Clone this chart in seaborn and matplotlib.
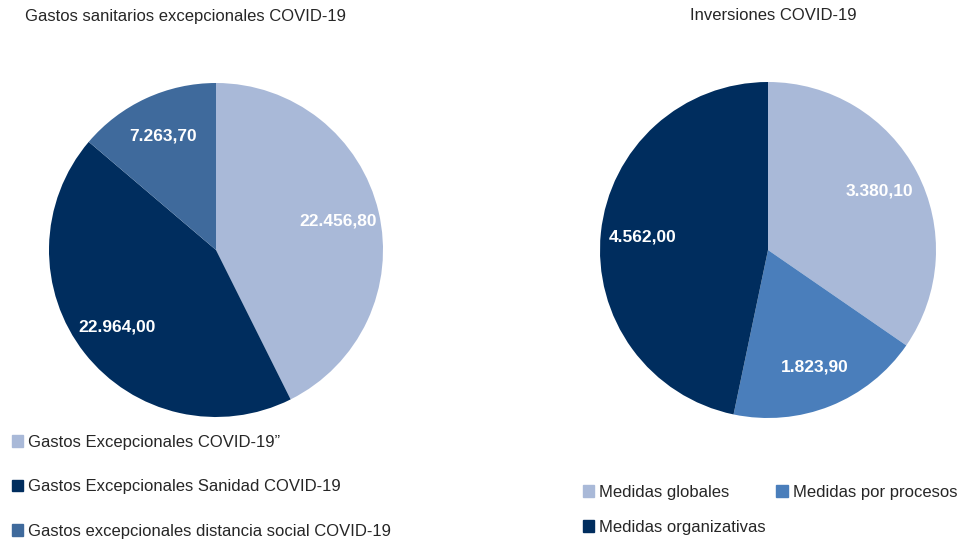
import matplotlib
matplotlib.use("Agg")
import matplotlib.pyplot as plt
import matplotlib.patches as mpatches
import seaborn as sns

# Data
gastos_labels = ["Gastos Excepcionales COVID-19\u201d",
                 "Gastos Excepcionales Sanidad COVID-19",
                 "Gastos excepcionales distancia social COVID-19"]
gastos_values = [22456.80, 22964.00, 7263.70]
gastos_colors = ["#A9B9D8", "#002D5E", "#3F6A9C"]

inv_labels = ["Medidas globales", "Medidas por procesos", "Medidas organizativas"]
inv_values = [3380.10, 1823.90, 4562.00]
inv_colors = ["#A9B9D8", "#4A7EBB", "#002D5E"]

sns.set_theme(style="white")
plt.rcParams["font.family"] = ["Liberation Sans", "DejaVu Sans"]


def es_fmt(v):
    s = f"{v:,.2f}"
    return s.replace(",", "X").replace(".", ",").replace("X", ".")


def draw_pie(ax, values, colors):
    total = sum(values)
    wedges, _, autotexts = ax.pie(
        values, colors=colors, startangle=90, counterclock=False,
        autopct=lambda p: es_fmt(p * total / 100), pctdistance=0.75,
        wedgeprops=dict(linewidth=0), radius=1,
        textprops=dict(color="white", fontsize=12.5, fontweight="bold"))
    ax.set_xlim(-1.0, 1.0)
    ax.set_ylim(-1.0, 1.0)
    ax.set_aspect("equal")
    return wedges


W, H = 957, 540
fig = plt.figure(figsize=(W / 100, H / 100), dpi=100)

ax1 = fig.add_axes([49 / W, 123 / H, 334 / W, 334 / H])
w1 = draw_pie(ax1, gastos_values, gastos_colors)
ax2 = fig.add_axes([600 / W, 122 / H, 336 / W, 336 / H])
w2 = draw_pie(ax2, inv_values, inv_colors)

fig.text(25 / W, 1 - 16 / H, "Gastos sanitarios excepcionales COVID-19",
         fontsize=12, va="center", ha="left")
fig.text(773 / W, 1 - 16 / H, "Inversiones COVID-19",
         fontsize=12, va="center", ha="center")

h1 = [mpatches.Patch(color=c, label=l) for c, l in zip(gastos_colors, gastos_labels)]
fig.legend(handles=h1, loc="upper left", bbox_to_anchor=(5 / W, 1 - 428 / H),
           frameon=False, fontsize=12, handlelength=0.7, handleheight=0.7,
           handletextpad=0.3, labelspacing=1.78, borderaxespad=0)

h2 = [mpatches.Patch(color=c, label=l) for c, l in zip(inv_colors, inv_labels)]
# order so that row 1 = globales, procesos ; row 2 = organizativas
h2_order = [h2[0], h2[2], h2[1]]
fig.legend(handles=h2_order, loc="upper left", bbox_to_anchor=(576 / W, 1 - 478 / H),
           frameon=False, fontsize=12, ncol=2, handlelength=0.7, handleheight=0.7,
           handletextpad=0.3, labelspacing=1.2, columnspacing=0.6, borderaxespad=0)

fig.savefig("out.png", dpi=100)
